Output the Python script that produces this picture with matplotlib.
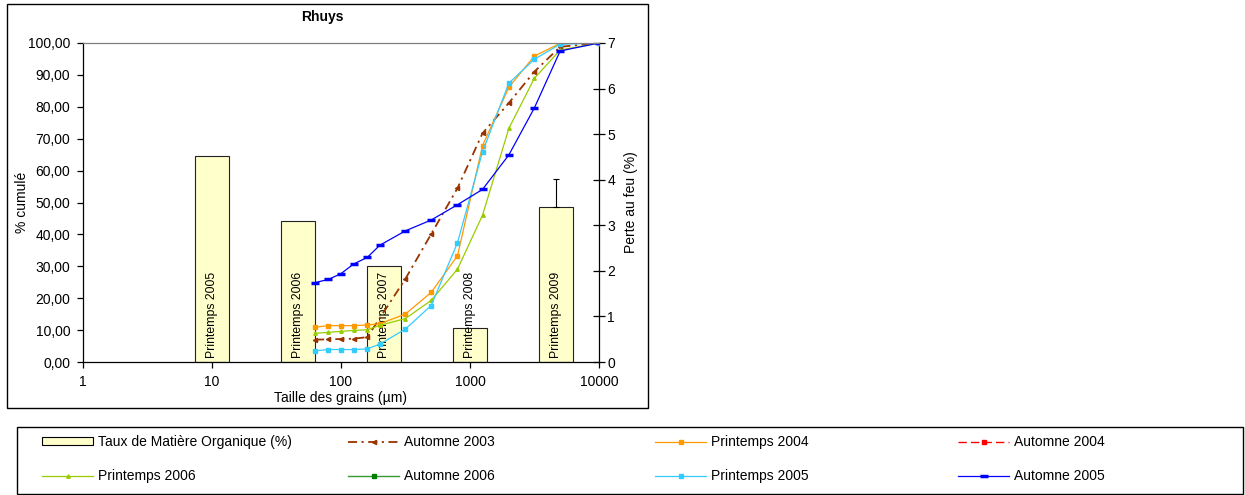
import matplotlib
matplotlib.use("Agg")
import matplotlib.pyplot as plt
from matplotlib.patches import Rectangle, Patch
from matplotlib.ticker import FixedLocator, FuncFormatter, NullLocator

# grain sizes (µm) of the sieve series
sizes = [63, 80, 100, 125, 160, 200, 315, 500, 800, 1250, 2000, 3150, 5000, 10000]
sizes_a2003 = [63, 80, 100, 125, 160, 315, 500, 800, 1250, 2000, 3150, 5000, 10000]

# cumulated percentages
automne_2003 = [7.0, 7.1, 7.2, 7.3, 7.8, 26.0, 40.1, 54.5, 71.7, 81.2, 91.0, 98.8, 100.0]
printemps_2004 = [10.9, 11.4, 11.4, 11.4, 11.6, 12.0, 15.0, 21.8, 33.3, 67.8, 86.1, 95.9, 99.9, 100.0]
automne_2004 = []
printemps_2006 = [9.0, 9.3, 9.6, 9.9, 10.1, 11.5, 13.6, 19.3, 29.1, 46.0, 73.2, 88.9, 97.8, 100.0]
automne_2006 = []
printemps_2005 = [3.5, 3.9, 3.9, 3.9, 4.1, 5.6, 10.3, 17.7, 37.4, 65.9, 87.4, 94.9, 99.6, 100.0]
automne_2005 = [24.9, 25.9, 27.7, 30.7, 32.8, 36.6, 41.1, 44.5, 49.3, 54.1, 64.9, 79.6, 97.5, 100.0]

# loss on ignition per campaign
mo_labels = ["Printemps 2005", "Printemps 2006", "Printemps 2007", "Printemps 2008", "Printemps 2009"]
mo_values = [4.53, 3.09, 2.11, 0.74, 3.40]
mo_err = [0, 0, 0, 0, 0.62]

W, H = 1245, 495
plt.rcParams.update({
    "font.family": ["Liberation Sans", "DejaVu Sans"],
    "font.size": 10,
    "axes.linewidth": 0.9,
})

fig = plt.figure(figsize=(W / 100, H / 100), dpi=100)

rect = [83 / W, 1 - 362 / H, (599 - 83) / W, (362 - 43) / H]

# bars on the secondary axis (category positions)
axb = fig.add_axes(rect)
axb.set_xlim(0, 6)
axb.set_ylim(0, 7)
pos = [i + 1.5 for i in range(len(mo_values))]
axb.bar(pos, mo_values, width=0.4, color="#FFFFCC", edgecolor="#222222", linewidth=0.8, zorder=2)
axb.errorbar(pos[-1], mo_values[-1], yerr=[[0], [mo_err[-1]]], fmt="none",
             ecolor="black", elinewidth=0.8, capsize=2.5, capthick=0.8, zorder=3)
for p, lab in zip(pos, mo_labels):
    axb.text(p, 0.09, lab, rotation=90, ha="center", va="bottom", fontsize=8.8, zorder=4)
axb.xaxis.set_major_locator(NullLocator())
axb.yaxis.tick_right()
axb.yaxis.set_label_position("right")
axb.set_yticks(range(0, 8))
axb.tick_params(axis="y", direction="inout", length=8, width=0.9, pad=2)
for s in ["left", "top", "bottom"]:
    axb.spines[s].set_visible(False)
axb.set_ylabel("Perte au feu (%)", labelpad=6)

# cumulative curves on the main axis
ax = fig.add_axes(rect)
ax.patch.set_alpha(0)
ax.set_xscale("log")
ax.set_xlim(1, 10000)
ax.set_ylim(0, 100)

l_a03, = ax.plot(sizes_a2003, automne_2003, color="#993300", lw=1.3,
                 dashes=(5, 2.5, 1.2, 2.5), marker="<", ms=3, label="Automne 2003")
l_p04, = ax.plot(sizes, printemps_2004, color="#FF9900", lw=0.9, marker="s", ms=2.5,
                 label="Printemps 2004")
l_a04, = ax.plot(automne_2004, automne_2004, color="#FF0000", lw=1.0, dashes=(6, 3),
                 marker="s", ms=2.5, label="Automne 2004")
l_p06, = ax.plot(sizes, printemps_2006, color="#99CC00", lw=0.9, marker="^", ms=2.5,
                 label="Printemps 2006")
l_a06, = ax.plot(automne_2006, automne_2006, color="#339933", lw=1.0, marker="s", ms=2.5,
                 mfc="#008000", mec="#008000", label="Automne 2006")
l_p05, = ax.plot(sizes, printemps_2005, color="#33CCFF", lw=0.9, marker="s", ms=2.5,
                 label="Printemps 2005")
l_a05, = ax.plot(sizes, automne_2005, color="#0000FF", lw=0.9, marker="_", ms=6, mew=2.5,
                 label="Automne 2005")

ax.xaxis.set_major_locator(FixedLocator([1, 10, 100, 1000, 10000]))
ax.xaxis.set_minor_locator(NullLocator())
ax.xaxis.set_major_formatter(FuncFormatter(lambda v, p: f"{v:g}"))
ax.set_yticks(range(0, 101, 10))
ax.yaxis.set_major_formatter(FuncFormatter(lambda v, p: f"{v:.2f}".replace(".", ",")))
ax.tick_params(axis="both", direction="out", length=4, width=0.9)
ax.tick_params(axis="x", pad=5)
ax.tick_params(axis="y", pad=5)
ax.spines["right"].set_visible(False)
ax.spines["top"].set_color("#808080")
ax.set_xlabel("Taille des grains (µm)", labelpad=2)
ax.set_ylabel("% cumulé")
ax.yaxis.set_label_coords(-0.104, 0.5)

fig.text(322 / W, 1 - 17 / H, "Rhuys", ha="center", va="center", fontsize=10, fontweight="bold")

# chart frame and legend frame
fig.patches.append(Rectangle((7 / W, 1 - 408 / H), 641 / W, 404 / H, transform=fig.transFigure,
                             fill=False, edgecolor="black", linewidth=1.0))
fig.patches.append(Rectangle((17 / W, 1 - 494 / H), 1226 / W, 67 / H, transform=fig.transFigure,
                             fill=False, edgecolor="black", linewidth=1.0))

bar_handle = Patch(facecolor="#FFFFCC", edgecolor="black", linewidth=0.8)
columns = [
    ([bar_handle, l_p06], ["Taux de Matière Organique (%)", "Printemps 2006"]),
    ([l_a03, l_a06], ["Automne 2003", "Automne 2006"]),
    ([l_p04, l_p05], ["Printemps 2004", "Printemps 2005"]),
    ([l_a04, l_a05], ["Automne 2004", "Automne 2005"]),
]
col_x = [42, 348, 655, 958]
for x0, (hs, ls) in zip(col_x, columns):
    fig.legend(hs, ls, loc="upper left", bbox_to_anchor=(x0 / W, 1 - 435 / H),
               frameon=False, borderpad=0, borderaxespad=0,
               handlelength=3.7, handleheight=0.45, handletextpad=0.3,
               labelspacing=1.47, fontsize=10)

fig.savefig("out.png", dpi=100)
